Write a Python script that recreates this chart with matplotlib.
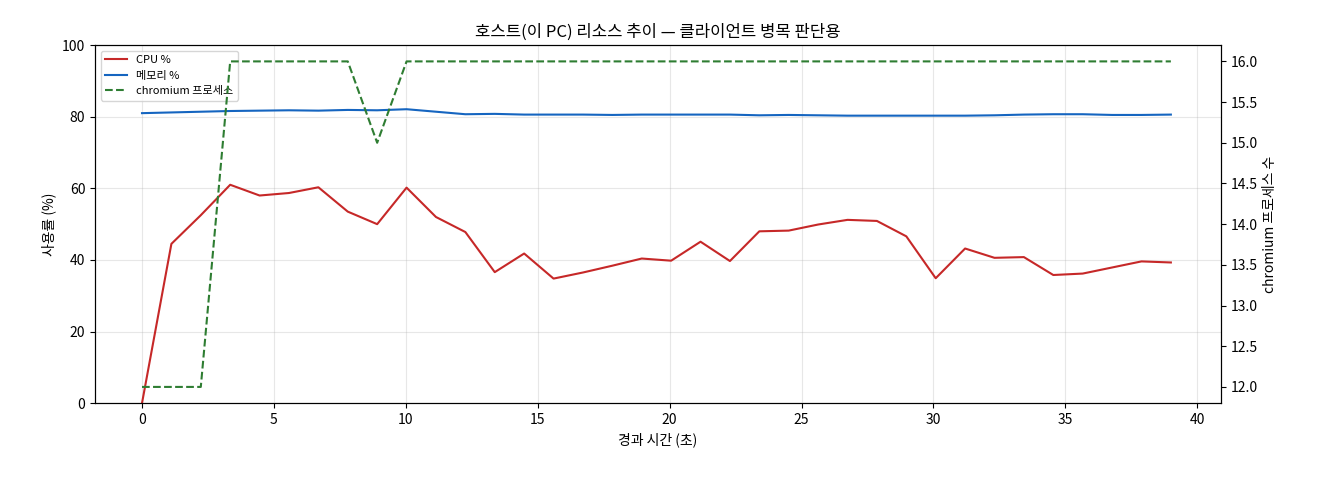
import matplotlib
matplotlib.use("Agg")
import matplotlib.pyplot as plt
import numpy as np

plt.rcParams['font.family'] = ['Noto Sans CJK KR', 'DejaVu Sans']

t = np.linspace(0, 39, 36)
cpu = [0, 44.5, 52.5, 61, 58, 58.7, 60.3, 53.5, 50, 60.2, 52, 47.8, 36.6, 41.8, 34.8, 36.5,
       38.4, 40.4, 39.8, 45.1, 39.7, 48, 48.2, 49.9, 51.2, 50.9, 46.6, 34.9, 43.2, 40.6, 40.8,
       35.8, 36.2, 37.9, 39.6, 39.3]
mem = [81.0, 81.2, 81.4, 81.6, 81.7, 81.8, 81.7, 81.9, 81.8, 82.1, 81.4, 80.7, 80.8, 80.6, 80.6, 80.6,
       80.5, 80.6, 80.6, 80.6, 80.6, 80.4, 80.5, 80.4, 80.3, 80.3, 80.3, 80.3, 80.3, 80.4, 80.6,
       80.7, 80.7, 80.5, 80.5, 80.6]
chrom = [12, 12, 12, 16, 16, 16, 16, 16, 15] + [16] * 27

fig, ax = plt.subplots(figsize=(13.2, 4.8), dpi=100)
l1, = ax.plot(t, cpu, color='#c62828', lw=1.5, label='CPU %')
l2, = ax.plot(t, mem, color='#1565c0', lw=1.5, label='메모리 %')
ax.set_ylim(0, 100)
ax.set_xlim(-1.78, 40.9)
ax.set_xlabel('경과 시간 (초)')
ax.set_ylabel('사용률 (%)')
ax.grid(alpha=0.3)
ax.set_title('호스트(이 PC) 리소스 추이 — 클라이언트 병목 판단용')
ax2 = ax.twinx()
l3, = ax2.plot(t, chrom, color='#2e7d32', lw=1.5, ls='--', label='chromium 프로세스')
ax2.set_ylim(11.8, 16.2)
ax2.set_ylabel('chromium 프로세스 수')
ax.legend(handles=[l1, l2, l3], loc='upper left', fontsize=8)
fig.subplots_adjust(left=0.072, right=0.925, top=0.906, bottom=0.16)
fig.savefig('out.png')
